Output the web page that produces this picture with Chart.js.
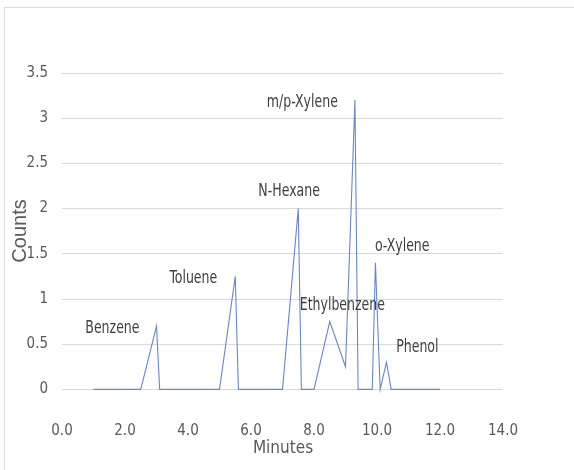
<!DOCTYPE html>
<html>
<head>
<meta charset="utf-8">
<script src="https://cdn.jsdelivr.net/npm/chart.js@4"></script>
<style>
  html, body { margin: 0; padding: 0; background: #fff; }
  #wrap { width: 574px; height: 470px; position: relative; }
</style>
</head>
<body>
<div id="wrap"><canvas id="chrom"></canvas></div>
<script>
// retention time (minutes) and detector counts
var minutes = [1.0, 2.5, 3.0, 3.1, 5.0, 5.5, 5.6, 7.0, 7.5, 7.6, 8.0, 8.5, 9.0, 9.3, 9.4, 9.85, 9.95, 10.1, 10.3, 10.45, 12.0];
var counts  = [0,   0,   0.7, 0,   0,   1.25, 0,  0,   2.0, 0,   0,   0.75, 0.25, 3.2, 0,  0,    1.4,  0,    0.3,  0,     0];
var peakNames = ["Benzene", "Toluene", "N-Hexane", "m/p-Xylene", "o-Xylene", "Ethylbenzene", "Phenol"];
var xTicks = [0, 2, 4, 6, 8, 10, 12, 14];
var yTicks = [0, 0.5, 1, 1.5, 2, 2.5, 3, 3.5];

var narrow = "'Liberation Sans Narrow', 'DejaVu Sans Condensed', sans-serif";

// where each peak name sits, in data units
var labelAt = [[1.60, 0.67], [4.17, 1.23], [7.21, 2.19], [7.63, 3.17], [10.80, 1.58], [8.90, 0.93], [11.28, 0.46]];

var extras = {
  id: 'extras',
  beforeDraw: function(chart){
    var c = chart.ctx;
    c.save();
    c.strokeStyle = '#dcdcdc';
    c.lineWidth = 1;
    c.strokeRect(4.5, 7.5, 600, 500);
    c.restore();
  },
  afterDraw: function(chart){
    var c = chart.ctx, xs = chart.scales.x, ys = chart.scales.y;
    c.save();
    c.fillStyle = '#404040';
    c.font = "17px " + narrow;
    c.textAlign = 'center';
    c.textBaseline = 'middle';
    peakNames.forEach(function(n, i){
      var px = xs.getPixelForValue(labelAt[i][0]), py = ys.getPixelForValue(labelAt[i][1]);
      c.save();
      c.translate(px, py);
      c.scale(0.82, 1);   // squeeze to look like the condensed labels
      c.fillText(n, 0, 0);
      c.restore();
    });
    c.fillStyle = '#595959';
    c.font = "17px " + narrow;
    c.fillText('Minutes', 283, 449);
    c.translate(20, 231);
    c.rotate(-Math.PI / 2);
    c.font = "20px 'Liberation Sans', sans-serif";
    c.fillText('Counts', 0, 0);
    c.restore();
  }
};

new Chart(document.getElementById('chrom'), {
  type: 'scatter',
  data: {
    datasets: [{
      data: minutes.map(function(m, i){ return {x: m, y: counts[i]}; }),
      showLine: true,
      borderColor: '#6688cc',
      borderWidth: 1.1,
      pointRadius: 0,
      tension: 0
    }]
  },
  options: {
    responsive: true,
    maintainAspectRatio: false,
    animation: false,
    layout: { padding: { top: 73, right: 71, left: 0, bottom: 0 } },
    plugins: { legend: { display: false }, tooltip: { enabled: false } },
    scales: {
      x: {
        min: 0, max: 14,
        afterBuildTicks: function(s){ s.ticks = xTicks.map(function(v){ return {value: v}; }); },
        afterFit: function(s){ s.height = 58; },
        grid: { display: false },
        border: { display: false },
        ticks: {
          color: '#595959', padding: 2,
          font: { family: narrow, size: 15 },
          callback: function(v){ return Number(v).toFixed(1); }
        }
      },
      y: {
        min: -0.25, max: 3.5,
        afterBuildTicks: function(s){ s.ticks = yTicks.map(function(v){ return {value: v}; }); },
        afterFit: function(s){ s.width = 62; },
        grid: { color: '#d9d9d9', drawTicks: false },
        border: { display: false },
        ticks: {
          color: '#595959', padding: 14,
          font: { family: narrow, size: 15 },
          callback: function(v){ return String(v); }
        }
      }
    }
  },
  plugins: [extras]
});
</script>
</body>
</html>
